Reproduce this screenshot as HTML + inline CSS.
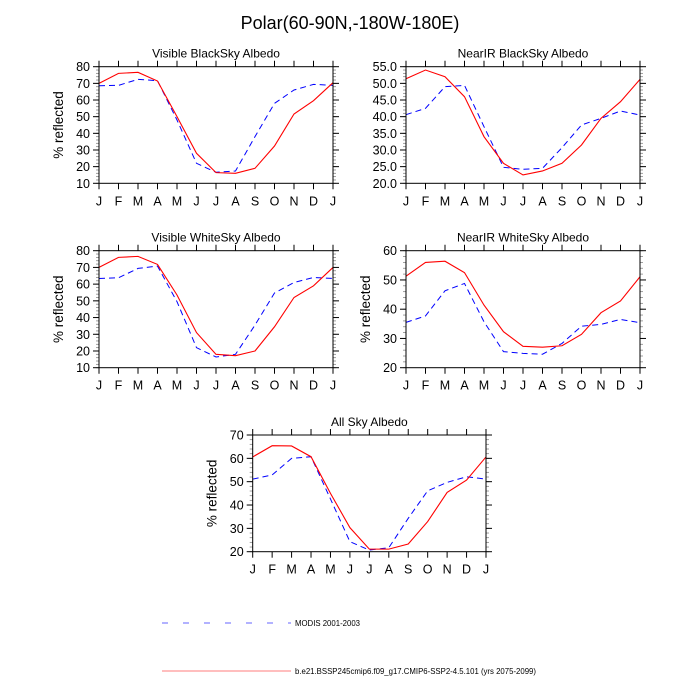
<!DOCTYPE html>
<html><head><meta charset="utf-8"><style>
body{margin:0;background:#fff;}
svg{display:block;font-family:"Liberation Sans",sans-serif;}
</style></head><body>
<svg id="c" width="700" height="700" viewBox="0 0 700 700" xmlns="http://www.w3.org/2000/svg">
<text x="350" y="29" text-anchor="middle" font-size="18">Polar(60-90N,-180W-180E)</text>
<g id="panels"></g>
<g>
<line x1="162" y1="623" x2="291" y2="623" stroke="#00f" stroke-width="1" stroke-dasharray="6,15" opacity="0.6"/>
<text x="295" y="626" font-size="7.8">MODIS 2001-2003</text>
<line x1="162" y1="671" x2="291" y2="671" stroke="#f00" stroke-width="1" opacity="0.5"/>
<text x="295" y="674" font-size="7.8">b.e21.BSSP245cmip6.f09_g17.CMIP6-SSP2-4.5.101 (yrs 2075-2099)</text>
</g>
</svg>
<script>
const months = ["J","F","M","A","M","J","J","A","S","O","N","D","J"];
const visBlackModel = [70,76,76.6,71.4,50,28,16.4,16,19,32.4,51.6,59.6,70.4];
const visBlackModis = [68.6,68.8,72.4,71.6,48,22,16.6,17.4,38,58,66,69.4,68.8];
const nirBlackModel = [51.4,54,52,46,34,26,22.5,23.7,26,31.5,39.5,44.5,51.2];
const nirBlackModis = [40.6,42.5,49,49.4,37,24.8,24.2,24.5,30.7,37.5,39.5,41.7,40.5];
const visWhiteModel = [70,76,76.6,71.8,53.5,31,18,17.2,20,34.5,52,59,70];
const visWhiteModis = [63.4,63.8,69.4,70.8,49.5,22,16.4,18,35.5,54.7,61,64,63.4];
const nirWhiteModel = [51.3,56,56.4,52.5,41.4,32.3,27.3,27,27.5,31.4,38.8,42.8,51.1];
const nirWhiteModis = [35.5,37.7,46.3,48.8,35.7,25.5,24.9,24.6,28.3,34.2,34.8,36.5,35.4];
const allSkyModel = [60.6,65.4,65.3,60.7,45,30.3,21.1,21.1,23.3,32.9,45.4,50.7,60.6];
const allSkyModis = [51.1,52.9,60,60.7,42.6,24.3,20.7,21.7,34.3,46.1,49.7,52.1,51.1];
const ticks1 = [10,20,30,40,50,60,70,80];
const ticks2 = [20,25,30,35,40,45,50,55];
const ticks4 = [20,30,40,50,60];
const ticks5 = [20,30,40,50,60,70];

const NS="http://www.w3.org/2000/svg";
const root=document.getElementById('panels');
function mk(tag,attrs,parent){const e=document.createElementNS(NS,tag);for(const k in attrs)e.setAttribute(k,attrs[k]);parent.appendChild(e);return e;}

function panel(key,title,x0,x1,y0,y1,ticks,fmt,minorStep,model,modis,ylab){
  const g=mk('g',{},root);
  
  
  const ymin=ticks[0],ymax=ticks[ticks.length-1];
  const sx=i=>x0+(x1-x0)*i/(months.length-1);
  const sy=v=>y1-(v-ymin)/(ymax-ymin)*(y1-y0);
  const t=mk('text',{x:(x0+x1)/2,y:y0-9,'text-anchor':'middle','font-size':'12'},g);t.textContent=title;
  
  
  for(let v=ymin;v<=ymax+1e-6;v+=minorStep){
    const y=sy(v);
    mk('line',{x1:x0-3,x2:x0,y1:y,y2:y,stroke:'#888','stroke-width':0.8},g);
    mk('line',{x1:x1,x2:x1+3,y1:y,y2:y,stroke:'#888','stroke-width':0.8},g);
  }
  ticks.forEach(v=>{
    const y=sy(v);
    mk('line',{x1:x0-6,x2:x0,y1:y,y2:y,stroke:'#000','stroke-width':1},g);
    mk('line',{x1:x1,x2:x1+6,y1:y,y2:y,stroke:'#000','stroke-width':1},g);
    const l=mk('text',{x:x0-9,y:y+4.5,'text-anchor':'end','font-size':'12.5'},g);l.textContent=fmt(v);
    
    
  });
  months.forEach((m,i)=>{
    const x=sx(i);
    mk('line',{x1:x,x2:x,y1:y1,y2:y1+6,stroke:'#000','stroke-width':1},g);
    mk('line',{x1:x,x2:x,y1:y0-6,y2:y0,stroke:'#000','stroke-width':1},g);
    const l=mk('text',{x:x,y:y1+22,'text-anchor':'middle','font-size':'12.5'},g);l.textContent=m;
    
    
  });
  if(ylab){
    const cx=x0-36,cy=(y0+y1)/2;
    const l=mk('text',{x:cx,y:cy,'text-anchor':'middle','font-size':'13.5',transform:`rotate(-90 ${cx} ${cy})`},g);l.textContent='% reflected';
    
    
  }
  const pm=mk('polyline',{points:modis.map((v,i)=>sx(i)+','+sy(v)).join(' '),fill:'none',stroke:'#00f','stroke-width':1,'stroke-dasharray':'6,4'},g);
  
  
  const pr=mk('polyline',{points:model.map((v,i)=>sx(i)+','+sy(v)).join(' '),fill:'none',stroke:'#f00','stroke-width':1.1},g);
  
  
  const b=mk('rect',{x:x0,y:y0,width:x1-x0,height:y1-y0,fill:'none',stroke:'#000','stroke-width':1},g);
  
  
}
const f0=v=>String(v), f1=v=>v.toFixed(1);
panel('visible-blacksky','Visible BlackSky Albedo',99,333,66.7,183.3,ticks1,f0,2,visBlackModel,visBlackModis,true);
panel('nearir-blacksky','NearIR BlackSky Albedo',406,640,66.7,183.3,ticks2,f1,1,nirBlackModel,nirBlackModis,false);
panel('visible-whitesky','Visible WhiteSky Albedo',99,333,250.7,367.7,ticks1,f0,2,visWhiteModel,visWhiteModis,true);
panel('nearir-whitesky','NearIR WhiteSky Albedo',406,640,250.7,367.7,ticks4,f0,2,nirWhiteModel,nirWhiteModis,true);
panel('all-sky','All Sky Albedo',252.7,486,435,551.7,ticks5,f0,2,allSkyModel,allSkyModis,true);
</script>
</body></html>
